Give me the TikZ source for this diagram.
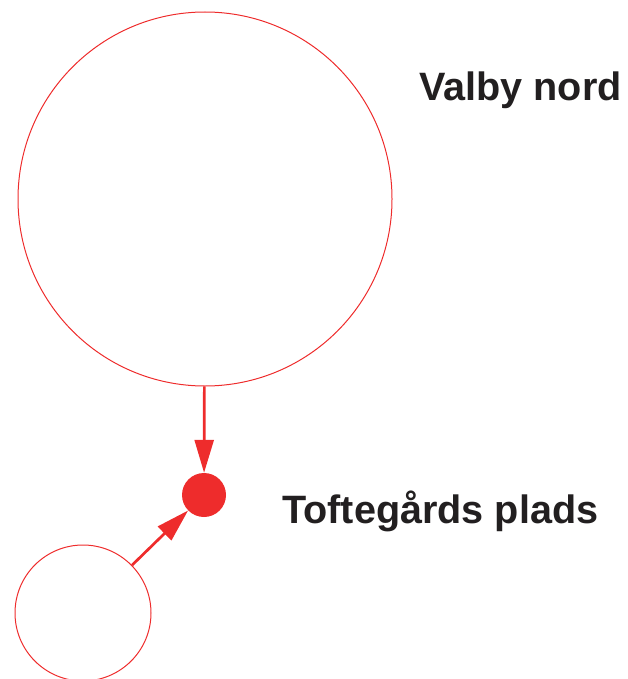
\documentclass[tikz,border=0pt]{standalone}
\usepackage{fontspec}
\setmainfont{Liberation Sans}
\usetikzlibrary{arrows.meta}
\definecolor{lred}{RGB}{238,44,44}
\definecolor{ink}{RGB}{34,31,32}
\tikzset{
  ring/.style={circle, draw=lred, line width=1pt, inner sep=0pt},
  dot/.style={circle, fill=lred, inner sep=0pt, minimum size=44pt},
  link/.style={draw=lred, line width=2.7pt, -{Triangle[length=33pt,width=19pt]}},
  label/.style={text=ink, font=\fontsize{39.6pt}{41pt}\selectfont\bfseries, inner sep=0pt, anchor=base west}
}
\begin{document}
\begin{tikzpicture}[x=1pt,y=-1pt]
\useasboundingbox (0,0) rectangle (627,679);
\node[ring, minimum size=374pt] (big) at (205,199) {};
\node[ring, minimum size=136pt] (small) at (83,613) {};
\node[dot] (stop) at (204,495) {};
\draw[link] (big) -- (stop);
\draw[link] (small) -- (stop);
\node[label] (vn) at (419,101) {Valby nord};
\node[label] (tp) at (282,523) {Toftegårds plads};
\end{tikzpicture}
\end{document}
